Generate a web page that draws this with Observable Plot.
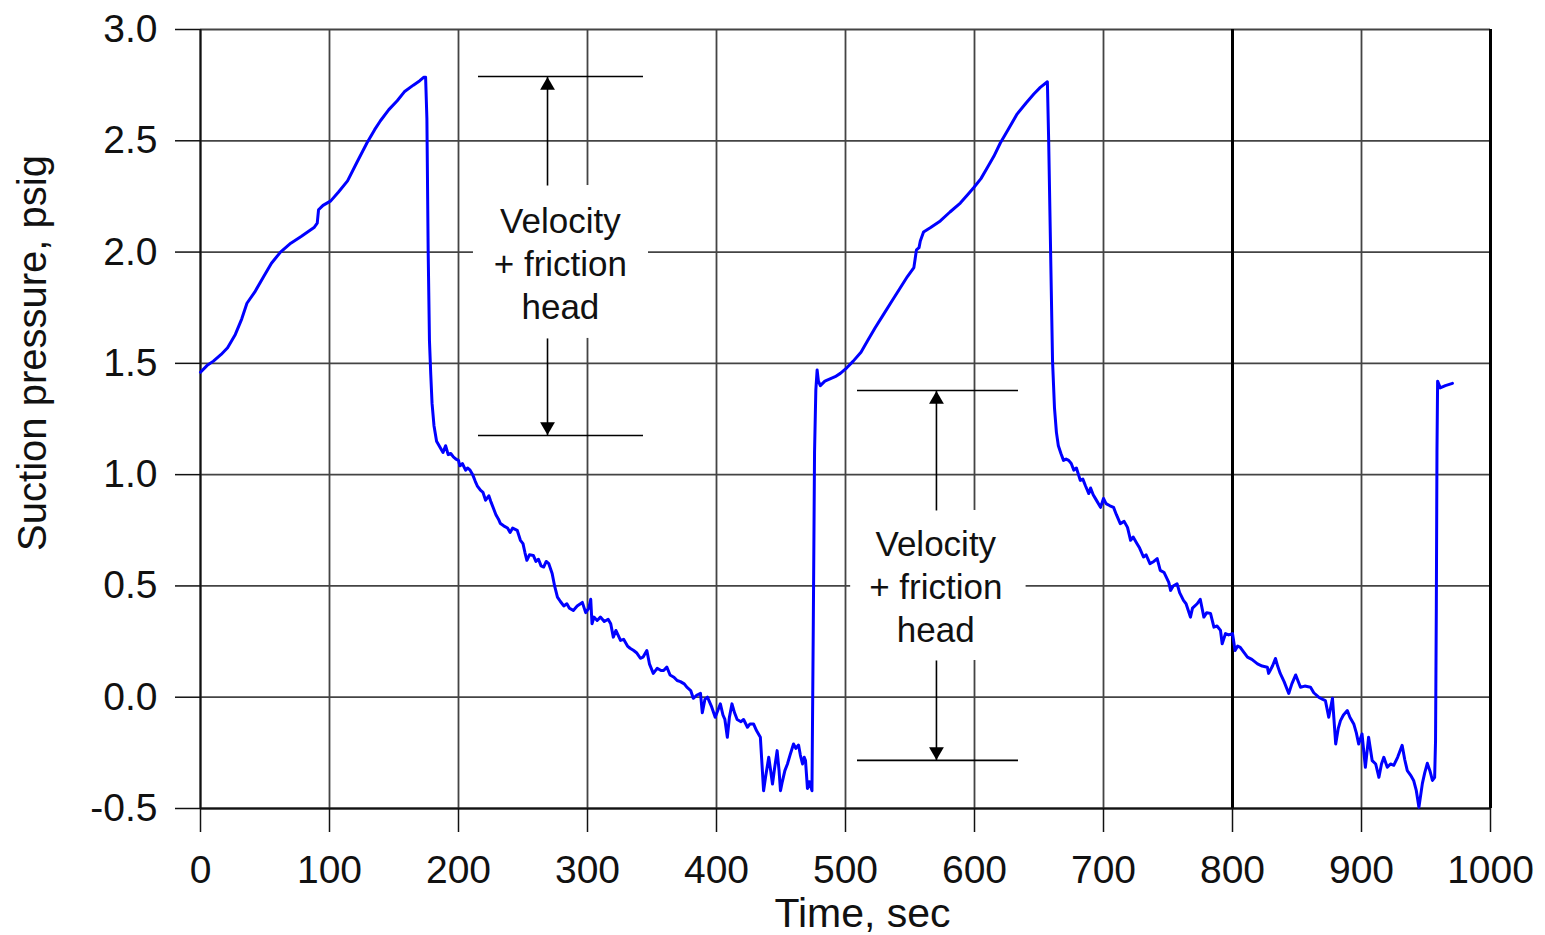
<!DOCTYPE html>
<html>
<head>
<meta charset="utf-8">
<script src="https://cdn.jsdelivr.net/npm/d3@7"></script>
<script src="https://cdn.jsdelivr.net/npm/@observablehq/plot@0.6"></script>
<style>
  html, body { margin: 0; padding: 0; background: #fff; }
  #chart { width: 1545px; height: 935px; }
</style>
</head>
<body>
<div id="chart"></div>
<script>
// ---- data ----
const xTicks = [0, 100, 200, 300, 400, 500, 600, 700, 800, 900, 1000];
const yTicks = [-0.5, 0, 0.5, 1.0, 1.5, 2.0, 2.5, 3.0];

const time = [
  0,5,10,16,21,27,32,36,42,49,55,62,70,78,83,88,90.5,91.5,95,101,107,114,121,129,135,139.5,146,152.5,158,165,170,173,174.5,
  175.5,176.5,177.5,178.5,179.5,181,183,186,188,190,192,194,196,198,200,201,203,205.5,207,209,211,213,214.5,217,219,221,223.5,225,227,229,231,232.5,235,238,240,242,245.5,248,250,251.5,253,255,258,260,262,264,266,268,270,272.6,274.5,276.7,279,281.6,284,286,289,292,296,298.6,301,302.5,303.5,305,307.5,310,313,316,318,320,322,325.6,328,331,333,335.8,338,341,343,346,348,351,354,357,359,361.5,364,367,369.5,372,375,377,380,382,385,387.6,389,391,393,396,399,401,403,405,406.5,408.4,410,412,414,416,419,421,424,426,428.7,431,434,436.5,438,440.5,442,443.4,445,447,448.5,449.6,451,453,455,457,459.7,461.5,463.6,465,466.7,468,469,470.5,472,474,
  475,476,477,478,479,480.5,
  484,488,492,496,501,506,512,517,523,529.5,536,542.5,548,553,554,555,557,558,560.5,566,573.5,581,589,595,599.5,605,610,615,620,626,633,640,646,651,656.5,
  657.5,659,660.5,662,663.5,665,667,669,671,673,675,677,679,682,684,686,688.6,690,692,694,697.7,700,702,705,707.8,710,713,716,718.6,721,723,726,728,731,733,736,739,741.6,744,747,750.6,752,754,757,759,762,764,767.4,769,772.6,775,777.8,780,783,785.6,788,790.7,792,794.6,797,800,802,804,806,809,811.6,815,819.4,823,827,828,831,833.3,835,837,840,843.6,846,849,852.7,856,860.5,863,866.8,870,872,874.6,877.5,880,882,883.7,886,889,891,894,896,897.8,900.4,903,905.5,908.3,911,913.5,915.5,917.3,920,922.5,925,928,931.5,933.5,935.5,938,940.4,942.5,944.5,947.2,949,951,953,955,956.7,957.4,
  958,958.5,959,961,965,970.5
];
const pressure = [
  1.46,1.49,1.51,1.54,1.57,1.63,1.70,1.77,1.82,1.89,1.95,2.00,2.04,2.07,2.09,2.11,2.13,2.19,2.21,2.23,2.27,2.32,2.40,2.49,2.55,2.59,2.64,2.68,2.72,2.75,2.77,2.785,2.785,
  2.6,2.0,1.6,1.45,1.32,1.22,1.15,1.12,1.10,1.13,1.09,1.095,1.08,1.07,1.064,1.04,1.05,1.02,1.03,1.02,1.00,0.97,0.95,0.93,0.92,0.885,0.905,0.88,0.85,0.82,0.80,0.78,0.77,0.76,0.74,0.76,0.75,0.705,0.69,0.65,0.615,0.64,0.637,0.61,0.62,0.59,0.585,0.61,0.60,0.556,0.50,0.45,0.43,0.41,0.42,0.40,0.39,0.41,0.426,0.38,0.40,0.44,0.33,0.36,0.345,0.36,0.34,0.35,0.33,0.27,0.30,0.255,0.26,0.23,0.22,0.21,0.20,0.175,0.18,0.21,0.15,0.107,0.13,0.12,0.12,0.135,0.10,0.09,0.075,0.07,0.06,0.045,0.03,-0.005,0.01,0.017,-0.07,-0.01,0.0,-0.04,-0.09,-0.06,-0.03,-0.08,-0.10,-0.18,-0.09,-0.03,-0.07,-0.10,-0.11,-0.10,-0.135,-0.12,-0.12,-0.15,-0.18,-0.42,-0.36,-0.27,-0.33,-0.39,-0.32,-0.24,-0.33,-0.42,-0.38,-0.33,-0.30,-0.26,-0.21,-0.23,-0.215,-0.26,-0.30,-0.27,-0.285,-0.41,-0.38,-0.42,
  0.3,1.1,1.38,1.47,1.42,1.40,
  1.42,1.43,1.44,1.455,1.48,1.51,1.55,1.60,1.66,1.72,1.78,1.84,1.89,1.93,1.97,2.01,2.02,2.05,2.09,2.11,2.14,2.18,2.22,2.26,2.29,2.33,2.38,2.43,2.49,2.55,2.62,2.67,2.71,2.74,2.765,
  2.5,2.0,1.51,1.3,1.19,1.13,1.095,1.064,1.07,1.064,1.05,1.02,1.03,0.974,0.98,0.95,0.915,0.94,0.91,0.89,0.853,0.893,0.87,0.86,0.853,0.82,0.78,0.79,0.763,0.705,0.72,0.69,0.67,0.63,0.64,0.60,0.61,0.623,0.57,0.56,0.516,0.48,0.50,0.51,0.47,0.435,0.42,0.36,0.40,0.42,0.44,0.36,0.38,0.376,0.315,0.32,0.30,0.24,0.286,0.28,0.286,0.21,0.23,0.224,0.20,0.18,0.17,0.15,0.14,0.135,0.107,0.14,0.174,0.14,0.107,0.07,0.017,0.06,0.10,0.045,0.05,0.045,0.02,0.0,-0.01,-0.015,-0.09,-0.005,-0.21,-0.14,-0.105,-0.08,-0.06,-0.09,-0.12,-0.16,-0.21,-0.165,-0.315,-0.18,-0.285,-0.30,-0.36,-0.30,-0.27,-0.315,-0.30,-0.306,-0.27,-0.216,-0.28,-0.33,-0.35,-0.374,-0.42,-0.495,-0.387,-0.34,-0.297,-0.33,-0.374,-0.36,-0.194,
  0.4,1.1,1.42,1.39,1.40,1.41
];

// annotations ("Velocity + friction head")
const annLabel = ["Velocity\n+ friction\nhead", "Velocity\n+ friction\nhead"];
const annTextX = [279, 570];
const annTextY = [1.956, 0.502];
const annArrowX = [269, 570.5];
const annTop = [2.789, 1.378];
const annBottom = [1.176, -0.284];
const annLineX1 = [215.5, 509.3];
const annLineX2 = [343.4, 634.1];
const annBoxX1 = [211.6, 504];
const annBoxX2 = [347.3, 640];
const annBoxY1 = [1.612, 0.165];
const annBoxY2 = [2.299, 0.839];

// ---- derived tables ----
const series = time.map((t, i) => ({t, p: pressure[i]}));
const ann = annLabel.map((label, i) => ({
  label, tx: annTextX[i], ty: annTextY[i], ax: annArrowX[i],
  top: annTop[i], bottom: annBottom[i], x1: annLineX1[i], x2: annLineX2[i],
  bx1: annBoxX1[i], bx2: annBoxX2[i], by1: annBoxY1[i], by2: annBoxY2[i]
}));
const hLines = ann.flatMap(a => [{y: a.top, x1: a.x1, x2: a.x2}, {y: a.bottom, x1: a.x1, x2: a.x2}]);
const arrows = ann.flatMap(a => [
  {x: a.ax, y1: a.by2, y2: a.top, dir: "up"},
  {x: a.ax, y1: a.by1, y2: a.bottom, dir: "down"}
]);

const gridColor = "#444";

const chart = Plot.plot({
  width: 1545,
  height: 935,
  marginLeft: 200,
  marginRight: 55,
  marginTop: 29,
  marginBottom: 127,
  style: {fontFamily: "'Liberation Sans', Arial, Helvetica, sans-serif", fontSize: "38px", color: "#111", background: "#fff"},
  x: {domain: [0, 1000]},
  y: {domain: [-0.5, 3.0]},
  marks: [
    // grid
    Plot.ruleX(xTicks, {stroke: gridColor, strokeWidth: 1.8}),
    Plot.ruleY(yTicks, {stroke: gridColor, strokeWidth: 1.8}),
    Plot.ruleX([0], {stroke: "#111", strokeWidth: 2}),
    Plot.ruleX([800], {stroke: "#000", strokeWidth: 3}),
    Plot.ruleX([1000], {stroke: "#000", strokeWidth: 3}),
    Plot.ruleY([-0.5], {stroke: "#111", strokeWidth: 2}),
    // white boxes behind annotation text
    Plot.rect(ann, {x1: "bx1", x2: "bx2", y1: "by1", y2: "by2", fill: "#fff"}),
    // annotation horizontal lines
    Plot.ruleY(hLines, {y: "y", x1: "x1", x2: "x2", stroke: "#000", strokeWidth: 1.6}),
    // arrows
    Plot.link(arrows, {x1: "x", x2: "x", y1: "y1", y2: "y2", stroke: "#000", strokeWidth: 1.6}),
    Plot.dot(arrows.filter(d => d.dir === "up"), {x: "x", y: "y2", symbol: "triangle", r: 5.5, fill: "#000", stroke: null, dy: 9}),
    Plot.dot(arrows.filter(d => d.dir === "down"), {x: "x", y: "y2", symbol: "triangle", r: 5.5, fill: "#000", stroke: null, dy: -9, rotate: 180}),
    // the curve
    Plot.line(series, {x: "t", y: "p", stroke: "#0000ff", strokeWidth: 3, strokeLinejoin: "round", curve: "linear"}),
    // annotation text
    Plot.text(ann, {x: "tx", y: "ty", text: "label", fontSize: 35, lineHeight: 1.23, textAnchor: "middle", lineAnchor: "middle", fill: "#111"}),
    // axes
    Plot.axisX({ticks: xTicks, tickSize: 24, tickPadding: 23, fontSize: 39, label: null, strokeWidth: 1.5, tickFormat: d => String(d)}),
    Plot.axisY({ticks: yTicks, tickSize: 25, tickPadding: 18, fontSize: 39, label: null, strokeWidth: 1.5, tickFormat: d => d.toFixed(1)}),
    // axis titles
    Plot.text(["Time, sec"], {text: d => d, frameAnchor: "bottom", textAnchor: "middle", lineAnchor: "middle", dx: 17, dy: 105, fontSize: 41, fill: "#111"}),
    Plot.text(["Suction pressure, psig"], {text: d => d, frameAnchor: "left", textAnchor: "middle", lineAnchor: "middle", rotate: -90, dx: -167, dy: -66, fontSize: 40, fill: "#111"})
  ]
});
document.getElementById("chart").appendChild(chart);
</script>
</body>
</html>
